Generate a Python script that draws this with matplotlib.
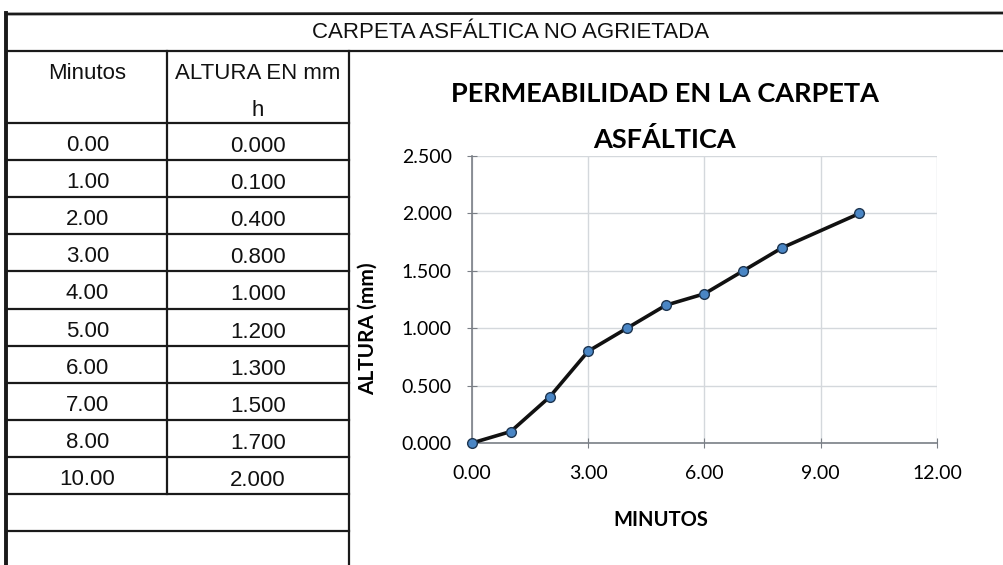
import matplotlib
matplotlib.use('Agg')
import matplotlib.pyplot as plt
from matplotlib.lines import Line2D

# Datos del ensayo
minutos = [0.00, 1.00, 2.00, 3.00, 4.00, 5.00, 6.00, 7.00, 8.00, 10.00]
altura = [0.000, 0.100, 0.400, 0.800, 1.000, 1.200, 1.300, 1.500, 1.700, 2.000]

encabezado = 'CARPETA ASFÁLTICA NO AGRIETADA'
col_1 = 'Minutos'
col_2 = ['ALTURA EN mm', 'h']
titulo = ['PERMEABILIDAD EN LA CARPETA', 'ASFÁLTICA']
x_ticks = [0, 3, 6, 9, 12]
y_ticks = [0.0, 0.5, 1.0, 1.5, 2.0, 2.5]

W, H = 1004, 565
fig = plt.figure(figsize=(W / 100, H / 100), dpi=100)
fig.patch.set_facecolor('white')


def fx(x):
    return x / W


def fy(y):
    return 1 - y / H


def linea(x0, y0, x1, y1, lw=1.6):
    fig.add_artist(Line2D([fx(x0), fx(x1)], [fy(y0), fy(y1)], color='#1a1a1a', lw=lw))


# Tabla (coordenadas en pixeles)
tabla_font = dict(family='Liberation Sans', fontsize=16, color='#111111')
x_izq, x_div, x_der = 6, 167, 349
linea(x_izq, 14, W, 13, lw=2.0)
linea(x_izq, 51, W, 51, lw=1.6)
linea(x_izq, 13, x_izq, H, lw=2.8)
linea(x_der, 51, x_der, H, lw=1.6)

fig.text(fx(511), fy(33), encabezado, ha='center', va='center', **tabla_font)
fig.text(fx((x_izq + x_div) / 2 + 1), fy(73), col_1, ha='center', va='center', **tabla_font)
fig.text(fx((x_div + x_der) / 2), fy(73), col_2[0], ha='center', va='center', **tabla_font)
fig.text(fx((x_div + x_der) / 2), fy(111), col_2[1], ha='center', va='center', **tabla_font)

y_fila0, alto_fila = 123, 37.1
linea(x_izq, y_fila0, x_der, y_fila0)
for i, (m, h) in enumerate(zip(minutos, altura)):
    y_top = y_fila0 + i * alto_fila
    y_bot = y_top + alto_fila
    linea(x_izq, y_bot, x_der, y_bot)
    yc = (y_top + y_bot) / 2 + 4
    fig.text(fx((x_izq + x_div) / 2 + 1), fy(yc), f'{m:.2f}', ha='center', va='center', **tabla_font)
    fig.text(fx((x_div + x_der) / 2), fy(yc + 1), f'{h:.3f}', ha='center', va='center', **tabla_font)
y_fin = y_fila0 + len(minutos) * alto_fila
linea(x_div, 51, x_div, y_fin)
linea(x_izq, y_fin + alto_fila, x_der, y_fin + alto_fila)

# Grafico
ax = fig.add_axes([fx(472), fy(443), fx(937) - fx(472), fy(156) - fy(443)])
ax.plot(minutos, altura, color='#111111', lw=2.6, marker='o', markersize=7,
        markerfacecolor='#4a86c5', markeredgecolor='#1d3550', markeredgewidth=1.0,
        zorder=3, clip_on=False)
ax.set_xlim(0, 12)
ax.set_ylim(0, 2.5)
ax.set_xticks(x_ticks)
ax.set_yticks(y_ticks)
ax.set_xticklabels([f'{v:.2f}' for v in x_ticks], family='Lato', fontsize=14)
ax.set_yticklabels([f'{v:.3f}' for v in y_ticks], family='Lato', fontsize=14)
ax.grid(True, color='#d4d8dc', lw=1.0)
ax.set_axisbelow(True)
for s in ['top', 'right']:
    ax.spines[s].set_visible(False)
for s in ['left', 'bottom']:
    ax.spines[s].set_color('#7a7f86')
    ax.spines[s].set_linewidth(1.2)
ax.tick_params(direction='inout', length=7, color='#7a7f86')
ax.tick_params(axis='x', pad=12)
ax.tick_params(axis='y', pad=11)

ax.set_xlabel('MINUTOS', family='Lato', fontweight='bold', fontsize=14.5)
ax.xaxis.set_label_coords((661 - 472) / 465, -0.235)
ax.set_ylabel('ALTURA (mm)', family='Lato', fontweight='bold', fontsize=15)
ax.yaxis.set_label_coords(-0.202, 0.40)

for i, t in enumerate(titulo):
    fig.text(fx(665), fy(94 + 45 * i), t, ha='center', va='center', family='Lato',
             fontweight='bold', fontsize=19.5)

fig.savefig('out.png', dpi=100, facecolor='white')
